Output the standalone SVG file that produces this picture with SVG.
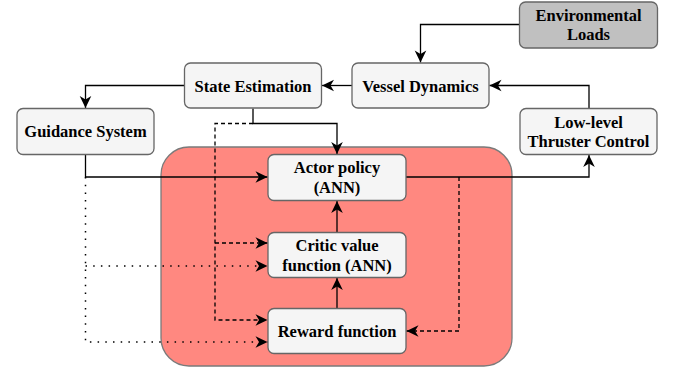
<svg xmlns="http://www.w3.org/2000/svg" width="675" height="370" viewBox="0 0 675 370">
  <style>
    .box { fill: #f5f5f5; stroke: #666666; stroke-width: 1.3; }
    .env { fill: #c0c0c0; stroke: #666666; stroke-width: 1.3; }
    .area { fill: #ff8880; stroke: #7a7a7a; stroke-width: 1.3; }
    .lbl { font-family: "Liberation Serif", "Times New Roman", serif; font-weight: bold; font-size: 16.5px; fill: #000000; text-anchor: middle; }
    .edge { fill: none; stroke: #000000; stroke-width: 1.3; }
    .dash { stroke-dasharray: 4 3; }
    .dot { stroke-width: 1.5; stroke-dasharray: 1.5 6.2; }
  </style>
  <defs>
    <marker id="arrow" markerUnits="userSpaceOnUse" viewBox="-13 -7 14 14" refX="0" refY="0" markerWidth="14" markerHeight="14" orient="auto">
      <path d="M0,0 L-12,-5.8 L-8.5,0 L-12,5.8 Z" fill="#000000"/>
    </marker>
  </defs>

  <!-- learning block background -->
  <g id="learning-block">
    <rect class="area" x="161" y="147" width="351" height="219" rx="28" ry="28"/>
  </g>

  <!-- connectors -->
  <g id="connectors">
    <path class="edge" d="M519.5,24.5 H420.5 V62.5" marker-end="url(#arrow)"/>
    <path class="edge" d="M352,85.5 H322" marker-end="url(#arrow)"/>
    <path class="edge" d="M589,108.5 V85.5 H489.5" marker-end="url(#arrow)"/>
    <path class="edge" d="M184.5,85.5 H85.5 V108" marker-end="url(#arrow)"/>
    <path class="edge" d="M253,108.5 V123.5 H337 V154" marker-end="url(#arrow)"/>
    <path class="edge dash" d="M253,123.5 H215 V320 H267.5" marker-end="url(#arrow)"/>
    <path class="edge dash" d="M215,243 H267.5" marker-end="url(#arrow)"/>
    <path class="edge" d="M85.5,154.5 V177 H267.5" marker-end="url(#arrow)"/>
    <path class="edge dot" d="M85.5,177 V342 H267.5" marker-end="url(#arrow)"/>
    <path class="edge dot" d="M85.5,266 H267.5" marker-end="url(#arrow)"/>
    <path class="edge" d="M406,177 H589 V155" marker-end="url(#arrow)"/>
    <path class="edge dash" d="M459,177 V331 H406.5" marker-end="url(#arrow)"/>
    <path class="edge" d="M337,232.5 V201" marker-end="url(#arrow)"/>
    <path class="edge" d="M337,308.5 V278" marker-end="url(#arrow)"/>
  </g>

  <g id="environmental-loads">
    <rect class="env" x="519.5" y="2" width="138" height="46" rx="6" ry="6"/>
    <text class="lbl" x="588.5" y="20.5">Environmental</text>
    <text class="lbl" x="588.5" y="40">Loads</text>
  </g>

  <g id="vessel-dynamics">
    <rect class="box" x="352" y="63" width="137" height="45" rx="6" ry="6"/>
    <text class="lbl" x="420.5" y="91.5">Vessel Dynamics</text>
  </g>

  <g id="state-estimation">
    <rect class="box" x="184.5" y="63" width="137" height="45" rx="6" ry="6"/>
    <text class="lbl" x="253" y="91.5">State Estimation</text>
  </g>

  <g id="guidance-system">
    <rect class="box" x="17" y="108.5" width="137" height="46" rx="6" ry="6"/>
    <text class="lbl" x="85.5" y="137">Guidance System</text>
  </g>

  <g id="low-level-control">
    <rect class="box" x="520" y="108.5" width="137" height="46" rx="6" ry="6"/>
    <text class="lbl" x="588.5" y="127.5">Low-level</text>
    <text class="lbl" x="588.5" y="146.5">Thruster Control</text>
  </g>

  <g id="actor-policy">
    <rect class="box" x="268" y="154.5" width="138" height="46" rx="6" ry="6"/>
    <text class="lbl" x="337" y="173">Actor policy</text>
    <text class="lbl" x="337" y="192.5">(ANN)</text>
  </g>

  <g id="critic-value">
    <rect class="box" x="268" y="232.5" width="138" height="45" rx="6" ry="6"/>
    <text class="lbl" x="337" y="251">Critic value</text>
    <text class="lbl" x="337" y="270.5">function (ANN)</text>
  </g>

  <g id="reward-function">
    <rect class="box" x="268" y="308.5" width="138" height="45" rx="6" ry="6"/>
    <text class="lbl" x="337" y="336.5">Reward function</text>
  </g>
</svg>
